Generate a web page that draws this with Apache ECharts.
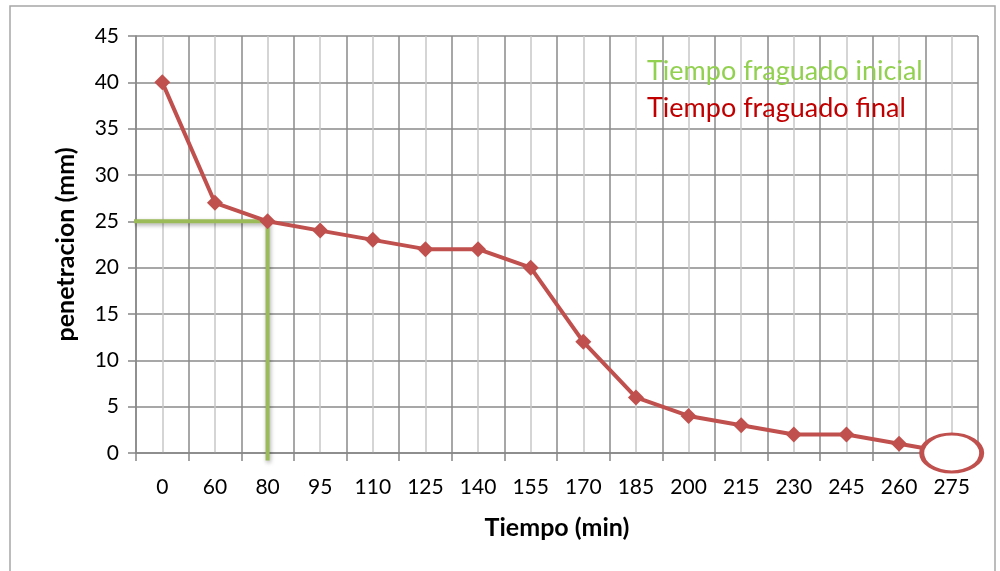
<!DOCTYPE html>
<html>
<head>
<meta charset="utf-8">
<script src="https://cdn.jsdelivr.net/npm/echarts@6/dist/echarts.min.js"></script>
<style>
  html, body { margin: 0; padding: 0; background: #fff; }
  #chart { width: 1000px; height: 571px; }
</style>
</head>
<body>
<div id="chart"></div>
<script>
// Setting-time test: needle penetration against elapsed time
const tiempos = ['0', '60', '80', '95', '110', '125', '140', '155', '170', '185', '200', '215', '230', '245', '260', '275'];
const penetracion = [40, 27, 25, 24, 23, 22, 22, 20, 12, 6, 4, 3, 2, 2, 1, 0];
const yTicks = { min: 0, max: 45, step: 5 };

// Initial set: 25 mm reached at 80 min; final set: 0 mm at 275 min
const fraguadoInicial = { tiempo: '80', pen: 25 };
const fraguadoFinal = { tiempo: '275', pen: 0 };

const FONT = 'Lato, "Open Sans", sans-serif';
const RED = '#C0504D';
const GREEN = '#9BBB59';

const iIni = tiempos.indexOf(fraguadoInicial.tiempo);
// centre of a category on the hidden 0..N value axis
const centro = i => i + 0.5;

const chart = echarts.init(document.getElementById('chart'), null, { renderer: 'canvas' });
chart.setOption({
  animation: false,
  backgroundColor: '#fff',
  grid: { left: 136, right: 22, top: 36, bottom: 118, containLabel: false },
  xAxis: [
    {
      type: 'category',
      data: tiempos,
      boundaryGap: true,
      name: 'Tiempo (min)',
      nameLocation: 'middle',
      nameGap: 62,
      nameTextStyle: { fontFamily: FONT, fontSize: 25, fontWeight: 'bold', color: '#000' },
      axisLine: { lineStyle: { color: '#868686', width: 1.5 } },
      axisTick: { show: true, length: 8, lineStyle: { color: '#868686', width: 1.5 } },
      axisLabel: { fontFamily: FONT, fontSize: 21, color: '#000', margin: 24 },
      splitLine: { show: true, lineStyle: { color: '#8a8a8a', width: 1.5 } },
      z: 3
    },
    {
      // helper axis: category centres for the light grid lines and the guide lines
      type: 'value',
      min: 0,
      max: tiempos.length,
      interval: 1,
      show: true,
      position: 'bottom',
      axisLine: { show: false },
      axisTick: { show: false },
      axisLabel: { show: false },
      splitLine: { show: false },
      minorTick: { show: false, splitNumber: 2 },
      minorSplitLine: { show: true, lineStyle: { color: '#c8c8c8', width: 1.5 } }
    }
  ],
  yAxis: {
    type: 'value',
    min: yTicks.min,
    max: yTicks.max,
    interval: yTicks.step,
    name: 'penetracion (mm)',
    nameLocation: 'middle',
    nameGap: 58,
    nameRotate: 90,
    nameTextStyle: { fontFamily: FONT, fontSize: 25, fontWeight: 'bold', color: '#000' },
    axisLine: { show: true, lineStyle: { color: '#868686', width: 1.5 } },
    axisTick: { show: true, length: 8, lineStyle: { color: '#868686', width: 1.5 } },
    axisLabel: { fontFamily: FONT, fontSize: 21, color: '#000', margin: 17 },
    splitLine: { show: true, lineStyle: { color: '#8a8a8a', width: 1.5 } }
  },
  series: [
    {
      name: 'inicial',
      type: 'line',
      xAxisIndex: 1,
      clip: false,
      symbol: 'none',
      silent: true,
      z: 3,
      lineStyle: {
        color: GREEN, width: 4,
        shadowColor: 'rgba(0,0,0,0.35)', shadowBlur: 4, shadowOffsetX: 1, shadowOffsetY: 2
      },
      data: [
        [-0.04, fraguadoInicial.pen],
        [centro(iIni), fraguadoInicial.pen],
        [centro(iIni), yTicks.min - 0.8]
      ]
    },
    {
      name: 'penetracion',
      type: 'line',
      xAxisIndex: 0,
      data: penetracion,
      symbol: 'diamond',
      symbolSize: 16,
      itemStyle: { color: RED },
      lineStyle: { color: RED, width: 4 },
      z: 4,
      markPoint: {
        silent: true,
        symbol: 'circle',
        symbolSize: [60, 38],
        itemStyle: { color: '#fff', borderColor: RED, borderWidth: 4 },
        label: { show: false },
        data: [{ coord: [fraguadoFinal.tiempo, fraguadoFinal.pen] }]
      }
    }
  ],
  graphic: [
    {
      type: 'rect',
      shape: { x: 10, y: 6, width: 985, height: 580 },
      style: { fill: 'none', stroke: '#a6a6a6', lineWidth: 1.5 },
      silent: true,
      z: -10
    },
    {
      type: 'text',
      left: 647, top: 58,
      style: { text: 'Tiempo fraguado inicial', fill: '#92D050', font: '27px ' + FONT },
      z: 10
    },
    {
      type: 'text',
      left: 647, top: 95,
      style: { text: 'Tiempo fraguado final', fill: '#C00000', font: '27px ' + FONT },
      z: 10
    }
  ]
});
</script>
</body>
</html>
